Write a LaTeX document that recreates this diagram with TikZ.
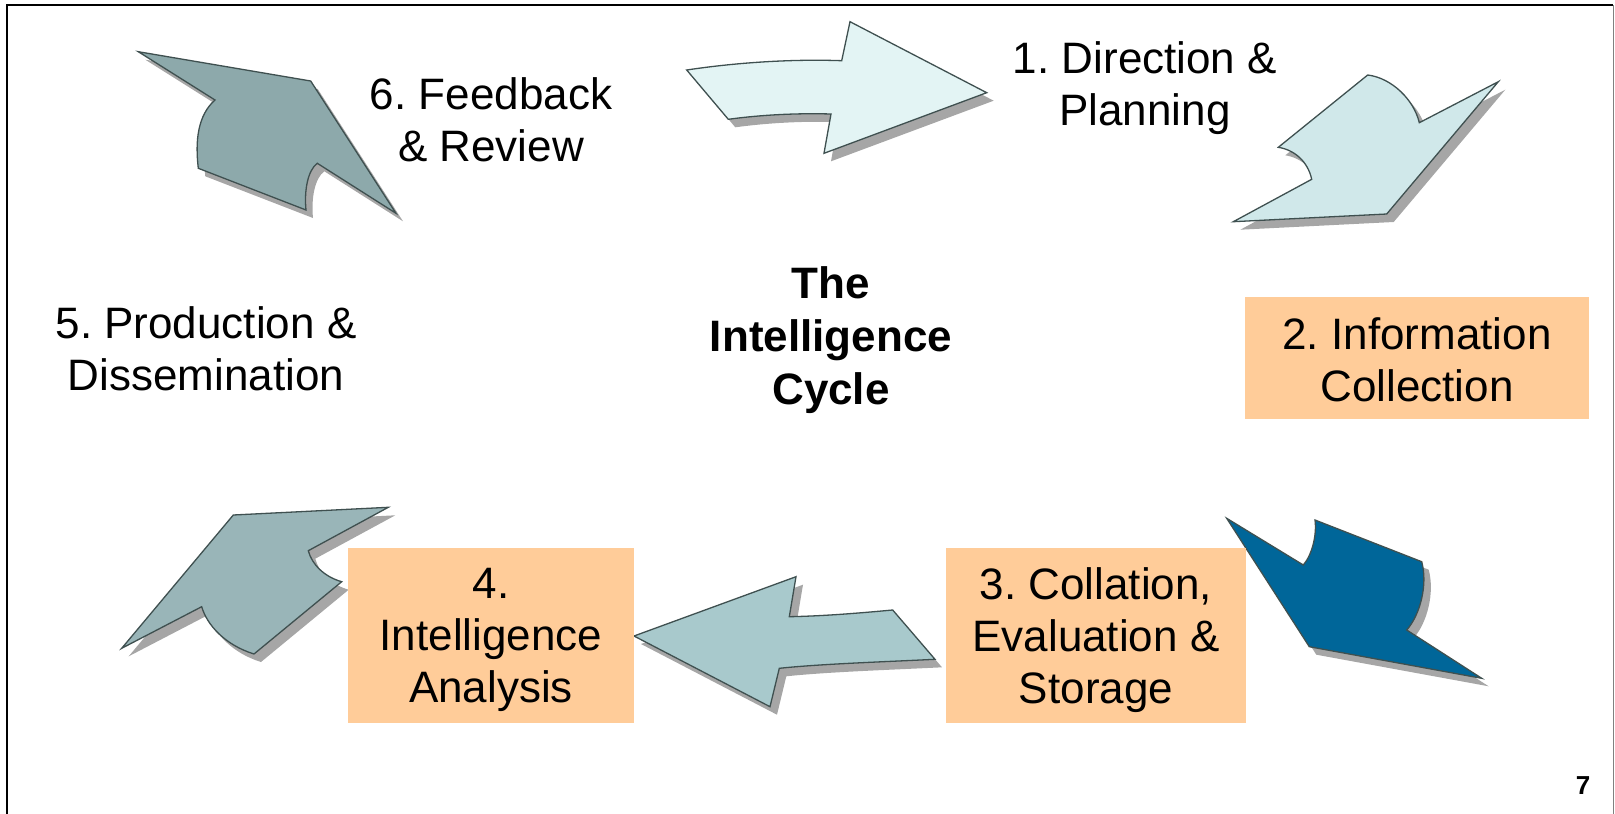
\documentclass[tikz,border=0pt]{standalone}
\usepackage{fontspec}
\setmainfont{Liberation Sans}
\frenchspacing
\definecolor{edgegray}{HTML}{3F5050}
\definecolor{shadowgray}{HTML}{A6A6A6}
\definecolor{boxorange}{HTML}{FFCC99}
\definecolor{stepone}{HTML}{E3F4F4}
\definecolor{steptwo}{HTML}{D0E8EA}
\definecolor{stepthree}{HTML}{006699}
\definecolor{stepfour}{HTML}{A8C9CC}
\definecolor{stepfive}{HTML}{99B5B8}
\definecolor{stepsix}{HTML}{8DA9AB}
% a block arrow with its drop shadow: #1 fill colour, #2 outline path
\newcommand\cyclearrow[2]{%
  \fill[shadowshape,shift={(7,8)}] #2;
  \filldraw[arrowshape,fill=#1] #2;}
\begin{document}
\begin{tikzpicture}[x=1pt,y=-1pt,
  arrowshape/.style={draw=edgegray,line width=1.3pt,line join=miter},
  shadowshape/.style={fill=shadowgray},
  cyclelabel/.style={font=\fontsize{44}{52}\selectfont,align=center,inner sep=0pt},
  stagebox/.style={fill=boxorange,inner sep=0pt}]
\useasboundingbox (0,0) rectangle (1615,814);
% page frame
\draw[line width=2.5pt] (7,814) -- (7,5) -- (1613,5);
\draw[line width=1pt,gray] (1613,5) -- (1613,814);

% 1: top arrow pointing right
\cyclearrow{stepone}{(686.7,70) .. controls (740,62) and (795,59) .. (841.7,60.7)
  -- (850,21.7) -- (986.7,92.7) -- (824,153.3) -- (831,114)
  .. controls (795,113) and (760,115) .. (728.3,119.3) -- cycle}
% 2: top right arrow pointing down-left
\cyclearrow{steptwo}{(1367.7,75) .. controls (1392,78) and (1414,100) .. (1419.3,122.7)
  -- (1498.3,81.7) -- (1386.7,214) -- (1233.3,221.7) -- (1311.7,179.3)
  .. controls (1308,162) and (1295,150) .. (1278.3,147.3) -- cycle}
% 3: right arrow pointing down-right
\cyclearrow{stepthree}{(1226.7,518.3) -- (1303.3,565)
  .. controls (1312,555) and (1317,535) .. (1315,520)
  -- (1421.7,561.7) .. controls (1428,585) and (1420,615) .. (1406.7,630)
  -- (1481.7,678.3) -- (1309.3,646.7) -- cycle}
% 4: bottom arrow pointing left
\cyclearrow{stepfour}{(634,636) -- (796,576.7) -- (789.3,616.7)
  .. controls (825,616) and (860,613) .. (892.7,610)
  -- (935,659.3) .. controls (880,662) and (820,664) .. (779.3,668.3)
  -- (770,706.7) -- cycle}
% 5: bottom left arrow pointing up-right
\cyclearrow{stepfive}{(233.3,515) -- (388.3,507.3) -- (308.3,550.7)
  .. controls (312,565) and (325,577) .. (341.7,581.7)
  -- (254,654) .. controls (225,645) and (207,625) .. (201.7,606.7)
  -- (121.7,648.3) -- cycle}
% 6: top left arrow pointing up-left
\cyclearrow{stepsix}{(138.3,51.7) -- (310.7,81) -- (396,213.3) -- (317.3,163.3)
  .. controls (308,170) and (304,190) .. (306,210)
  -- (198.3,168.3) .. controls (195,140) and (198,115) .. (215,100) -- cycle}

% orange stage boxes
\node[stagebox,minimum width=344pt,minimum height=122pt] (collectionbox) at (1417,358) {};
\node[stagebox,minimum width=300pt,minimum height=175pt] (collationbox) at (1096,635.5) {};
\node[stagebox,minimum width=286pt,minimum height=175pt] (analysisbox) at (491,635.5) {};

% stage texts
\node[cyclelabel] (direction) at (1145,88) {1. Direction \&\\Planning};
\node[cyclelabel] (collection) at (1417,360) {2. Information\\Collection};
\node[cyclelabel] (collation) at (1096,640) {3. Collation,\\Evaluation \&\\Storage};
\node[cyclelabel] (analysis) at (491,640) {4.\\Intelligence\\Analysis};
\node[cyclelabel] (production) at (206,349) {5. Production \&\\Dissemination};
\node[cyclelabel] (feedback) at (491,120) {6. Feedback\\\& Review};
\node[cyclelabel,font=\fontsize{44}{53}\selectfont\bfseries] (title) at (831,340) {The\\Intelligence\\Cycle};
\node[font=\fontsize{26}{28}\selectfont\bfseries,inner sep=0pt] (pagenum) at (1583,786) {7};
\end{tikzpicture}
\end{document}
